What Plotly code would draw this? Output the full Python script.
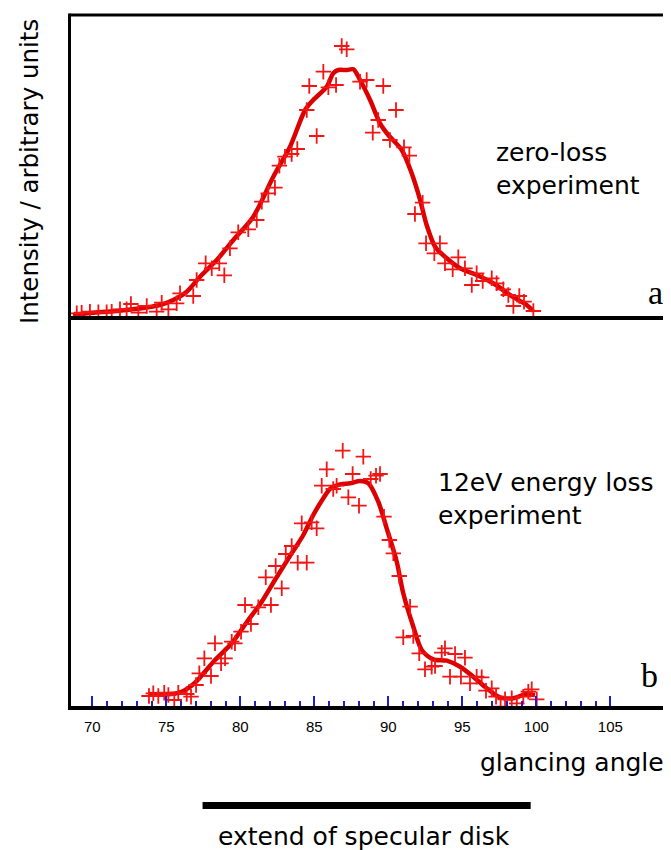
import plotly.graph_objects as go

# ---------------- data (arbitrary intensity units) ----------------
# (a) zero-loss experiment: measured points
a_angle = [68.95, 69.28, 69.84, 70.41, 70.97, 71.31, 71.87, 72.32, 72.61, 73.11,
           73.68, 74.35, 74.69, 75.14, 75.70, 75.93, 76.82, 77.05, 77.66, 78.07,
           78.58, 78.92, 79.30, 79.86, 80.54, 81.11, 81.45, 81.89, 82.34, 82.64,
           83.02, 83.47, 83.85, 84.49, 84.66, 85.16, 85.61, 85.95, 86.47, 86.85,
           87.19, 88.09, 88.54, 88.95, 89.32, 89.66, 90.11, 90.52, 91.06, 91.42,
           91.80, 92.32, 92.55, 93.11, 93.49, 93.83, 94.35, 94.73, 95.18, 95.64,
           95.97, 96.38, 96.99, 97.32, 97.77, 98.11, 98.45, 98.85, 99.17, 99.80]
a_intensity = [4.7, 5.3, 6.3, 5.7, 5.7, 6.3, 8.7, 8.7, 14.0, 5.3,
               12.0, 6.3, 15.3, 8.7, 14.7, 24.7, 22.0, 38.0, 54.7, 49.7,
               54.7, 42.7, 69.7, 85.7, 88.7, 98.0, 116.3, 124.7, 130.3, 152.3,
               161.3, 164.0, 169.0, 208.0, 232.0, 182.0, 246.3, 230.7, 233.0, 272.0,
               268.7, 236.3, 238.0, 185.3, 198.0, 232.0, 178.0, 208.0, 170.7, 162.3,
               104.0, 115.3, 74.7, 64.7, 74.7, 54.7, 48.7, 60.7, 49.7, 33.0,
               44.7, 37.0, 39.7, 34.7, 28.7, 23.0, 12.0, 22.0, 16.3, 7.0]
# (a) smoothed curve
a_fit_angle = [68.70, 70.07, 72.32, 74.57, 75.47, 76.38, 77.28, 78.41, 79.53, 80.88,
               82.23, 83.36, 84.38, 84.93, 85.84, 86.28, 86.62, 87.19, 87.64, 88.09,
               88.77, 89.44, 90.00, 90.91, 91.58, 92.15, 92.59, 93.16, 93.95, 94.85,
               95.97, 97.09, 98.22, 99.35, 99.78]
a_fit_intensity = [3.0, 5.3, 8.0, 13.0, 18.0, 26.3, 41.3, 58.0, 78.0, 101.3,
                   141.3, 171.3, 208.0, 218.0, 231.3, 244.7, 248.0, 248.0, 248.7, 238.0,
                   218.0, 194.7, 183.0, 168.0, 144.7, 118.0, 93.0, 71.3, 59.7, 49.7,
                   43.0, 34.7, 23.0, 13.0, 7.0]

# (b) 12 eV energy loss experiment: measured points
b_angle = [73.83, 74.12, 74.46, 74.86, 75.14, 75.54, 75.81, 76.38, 76.67, 77.01,
           77.23, 77.57, 78.02, 78.29, 78.70, 78.97, 79.42, 79.64, 80.05, 80.32,
           80.72, 81.22, 81.72, 82.07, 82.39, 82.80, 83.07, 83.47, 83.88, 84.15,
           84.49, 84.82, 85.16, 85.50, 85.84, 86.28, 86.51, 86.92, 87.30, 87.59,
           88.02, 88.31, 88.81, 89.17, 89.44, 89.71, 90.07, 90.34, 90.74, 91.01,
           91.47, 91.69, 92.09, 92.48, 92.93, 93.16, 93.61, 93.83, 94.17, 94.51,
           94.91, 95.18, 95.52, 95.97, 96.31, 96.60, 96.99, 97.28, 97.59, 97.89,
           98.34, 98.68, 99.12, 99.46, 99.69, 100.03]
b_intensity = [12.0, 14.7, 12.0, 15.3, 13.0, 8.0, 15.3, 14.0, 11.3, 23.0,
               34.7, 49.7, 32.0, 64.7, 44.7, 49.7, 66.3, 64.7, 76.3, 103.0,
               84.0, 100.7, 130.7, 103.0, 142.0, 119.7, 154.0, 162.0, 145.3, 184.7,
               145.3, 185.7, 179.7, 222.3, 238.7, 219.0, 222.3, 257.3, 210.7, 234.0,
               202.3, 251.3, 229.0, 232.3, 234.0, 191.3, 168.0, 154.7, 132.0, 70.7,
               101.3, 72.0, 54.7, 38.7, 41.3, 42.0, 55.3, 59.7, 31.3, 54.0,
               31.3, 50.3, 24.7, 31.3, 30.7, 17.3, 19.7, 11.3, 1.3, 8.7,
               9.7, 4.7, 11.3, 16.3, 18.7, 8.7]
# (b) smoothed curve
b_fit_angle = [73.78, 75.36, 76.04, 76.94, 78.29, 79.42, 80.54, 81.45, 82.34, 83.47,
               84.26, 84.93, 85.61, 86.06, 86.74, 87.42, 88.09, 88.65, 89.32, 89.89,
               90.57, 91.01, 91.69, 92.26, 93.04, 93.95, 94.85, 95.74, 96.65, 97.55,
               98.45, 99.24, 99.91]
b_fit_intensity = [14.0, 14.0, 16.3, 25.3, 48.0, 64.7, 88.0, 106.3, 128.0, 154.7,
                   173.0, 193.0, 209.7, 219.0, 223.7, 224.7, 227.0, 224.7, 206.3, 179.7,
                   146.3, 114.7, 81.3, 58.0, 48.7, 47.3, 41.3, 31.3, 19.7, 10.7,
                   9.7, 13.7, 13.0]

major_ticks = [70, 75, 80, 85, 90, 95, 100, 105]
tick_labels = ["70", "75", "80", "85", "90", "95", "100", "105"]
minor_ticks = [v for v in range(71, 105) if v % 5 != 0]

disk_start, disk_end = 77.45, 99.62   # extent of specular disk (glancing angle)

# ---------------- styling ----------------
# page body has an 8px margin; lay out in window pixels and shift by OFF
OFF = 8
WIN_W, WIN_H = 671, 850
W, H = WIN_W - OFF, WIN_H - OFF
PLOT_L, PLOT_R, PLOT_T, PLOT_B = 68, 671, 15, 708      # window pixel coords
ML, MR, MT, MB = PLOT_L - OFF, 0, PLOT_T - OFF, H - (PLOT_B - OFF)
PW, PH = W - ML - MR, H - MT - MB
SPLIT = (PLOT_B - 318) / PH          # bottom panel fraction

def px(xp):
    return (xp - PLOT_L) / PW

def py(yp):
    return (PLOT_B - yp) / PH

RED_LINE = "#dc0000"
RED_PT = "#f41414"
TICK_BLUE = "#1d1dd8"
FONT = "DejaVu Sans"

fig = go.Figure()

marker = dict(symbol="cross-thin", size=11, line=dict(width=1.8, color=RED_PT))

fig.add_trace(go.Scatter(x=a_fit_angle, y=a_fit_intensity, mode="lines",
                         line=dict(color=RED_LINE, width=4.5, shape="spline", smoothing=0.8),
                         xaxis="x2", yaxis="y2", hoverinfo="skip"))
fig.add_trace(go.Scatter(x=a_angle, y=a_intensity, mode="markers", marker=marker,
                         xaxis="x2", yaxis="y2"))
fig.add_trace(go.Scatter(x=b_fit_angle, y=b_fit_intensity, mode="lines",
                         line=dict(color=RED_LINE, width=4.5, shape="spline", smoothing=0.8),
                         xaxis="x", yaxis="y", hoverinfo="skip"))
fig.add_trace(go.Scatter(x=b_angle, y=b_intensity, mode="markers", marker=marker,
                         xaxis="x", yaxis="y"))

x_range = [70 + (PLOT_L - 92.3) / 14.8, 70 + (PLOT_R - 92.3) / 14.8]

fig.update_layout(
    width=W, height=H,
    margin=dict(l=ML, r=MR, t=MT, b=MB, pad=0),
    paper_bgcolor="white", plot_bgcolor="white",
    showlegend=False,
    font=dict(family=FONT, color="black"),
    xaxis=dict(domain=[0, 1], anchor="y", range=x_range, showgrid=False, zeroline=False,
               showline=False, tickmode="array", tickvals=major_ticks, ticktext=tick_labels,
               ticks="inside", ticklen=12, tickwidth=2, tickcolor=TICK_BLUE,
               tickfont=dict(family="Liberation Sans", size=15, color="black"),
               ticklabelstandoff=8,
               minor=dict(tickmode="array", tickvals=minor_ticks, ticks="inside",
                          ticklen=7, tickwidth=2, tickcolor=TICK_BLUE, showgrid=False)),
    yaxis=dict(domain=[0, SPLIT], anchor="x", range=[0, 390], visible=False),
    xaxis2=dict(domain=[0, 1], anchor="y2", matches="x", visible=False),
    yaxis2=dict(domain=[SPLIT, 1], anchor="x2", range=[0, 303], visible=False),
)

# frame lines
shapes = [
    dict(type="line", xref="paper", yref="paper", x0=px(69.5), x1=1.02, y0=py(15), y1=py(15),
         line=dict(color="black", width=3)),
    dict(type="line", xref="paper", yref="paper", x0=px(69.5), x1=px(69.5), y0=py(13.5), y1=py(710),
         line=dict(color="black", width=3)),
    dict(type="line", xref="paper", yref="paper", x0=px(68), x1=1.02, y0=py(318), y1=py(318),
         line=dict(color="black", width=4)),
    dict(type="line", xref="paper", yref="paper", x0=px(68), x1=1.02, y0=py(708), y1=py(708),
         line=dict(color="black", width=4)),
    # extent of specular disk bar
    dict(type="line", xref="x", yref="paper", x0=disk_start, x1=disk_end,
         y0=py(805.5), y1=py(805.5), line=dict(color="black", width=7)),
]
fig.update_layout(shapes=shapes)

big = dict(family=FONT, size=25, color="black")
ann = [
    dict(text="Intensity / arbitrary units", x=px(30), y=py(172), textangle=-90,
         xanchor="center", yanchor="middle", font=dict(family=FONT, size=24.5, color="black")),
    dict(text="zero-loss<br>experiment", x=px(494), y=py(168.5), xanchor="left",
         yanchor="middle", align="left", font=big),
    dict(text="12eV energy loss<br>experiment", x=px(436), y=py(499), xanchor="left",
         yanchor="middle", align="left", font=big),
    dict(text="a", x=px(655.5), y=py(292), xanchor="center", yanchor="middle",
         font=dict(family="Liberation Serif", size=34, color="black")),
    dict(text="b", x=px(649.5), y=py(675), xanchor="center", yanchor="middle",
         font=dict(family="Liberation Serif", size=34, color="black")),
    dict(text="glancing angle", x=px(666), y=py(762), xanchor="right", yanchor="middle",
         font=big),
    dict(text="extend of specular disk", x=px(364), y=py(836), xanchor="center",
         yanchor="middle", font=big),
]
for a in ann:
    a.update(xref="paper", yref="paper", showarrow=False)
fig.update_layout(annotations=ann)

fig.write_html("out.html")
